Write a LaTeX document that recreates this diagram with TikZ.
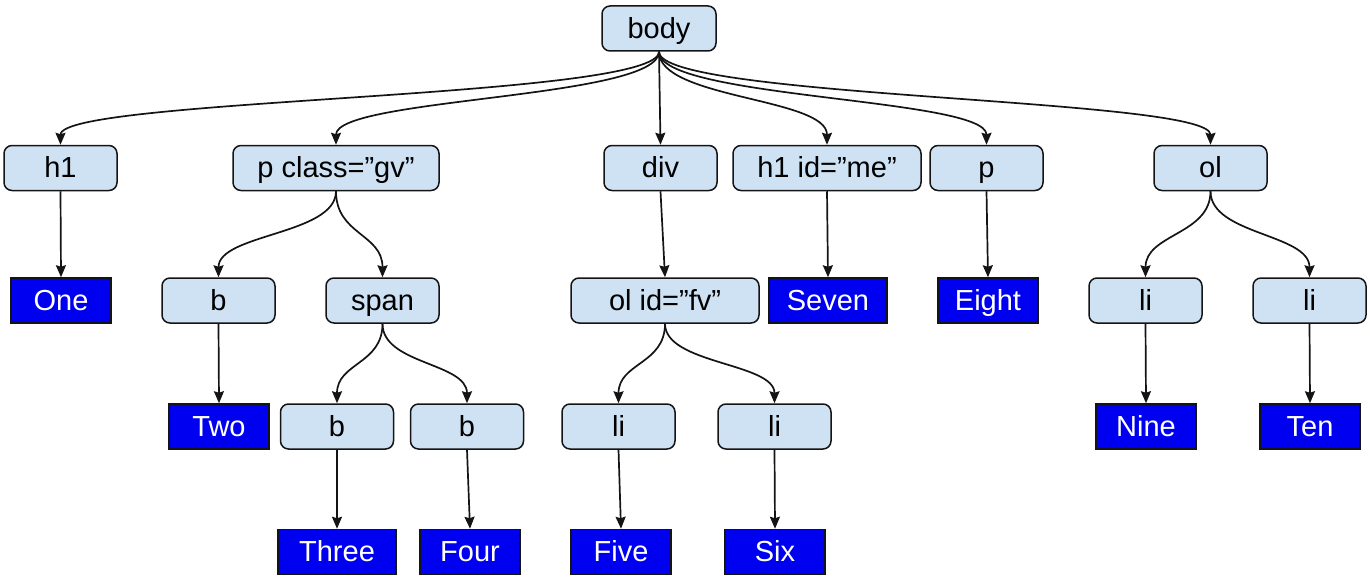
\documentclass[tikz,border=0pt]{standalone}
\usepackage{fontspec}
\setmainfont{Liberation Sans}
\usetikzlibrary{arrows.meta}
\definecolor{lightb}{HTML}{CFE2F3}
\definecolor{darkb}{HTML}{0000F0}
\definecolor{edgec}{HTML}{141414}
\tikzset{
  base/.style={line width=1.5pt, draw=edgec, inner sep=0pt, anchor=center,
    font=\fontsize{29}{33}\selectfont, text height=20.5pt, text depth=1.2pt,
    minimum height=45pt},
  lt/.style={base, fill=lightb, rounded corners=8pt, text=black},
  dk/.style={base, fill=darkb, text=white},
  conn/.style={line width=1.7pt, draw=edgec, -{Stealth[length=12pt,width=10pt,inset=1.5pt]}}
}
\begin{document}
\begin{tikzpicture}[x=1pt,y=-1pt]
\useasboundingbox (0,0) rectangle (1370,578);
% row 0
\node[lt, minimum width=114pt] (body) at (659,28.5) {body};
% row 1
\node[lt, minimum width=113pt] (h1)   at (60.5,168) {h1};
\node[lt, minimum width=206pt] (pcl)  at (336,168) {p class=”gv”};
\node[lt, minimum width=113pt] (div)  at (660.5,168) {div};
\node[lt, minimum width=188pt] (h1me) at (827,168) {h1 id=”me”};
\node[lt, minimum width=113pt] (p)    at (986.5,168) {p};
\node[lt, minimum width=113pt] (ol)   at (1210.5,168) {ol};
% row 2
\node[dk, minimum width=100pt] (one)   at (61,300.5) {One};
\node[lt, minimum width=113pt] (b1)    at (218.5,300.5) {b};
\node[lt, minimum width=113pt] (span)  at (382.5,300.5) {span};
\node[lt, minimum width=188pt] (olfv)  at (665,300.5) {ol id=”fv”};
\node[dk, minimum width=118pt] (seven) at (828,300.5) {Seven};
\node[dk, minimum width=100pt] (eight) at (988,300.5) {Eight};
\node[lt, minimum width=113pt] (li1)   at (1145.5,300.5) {li};
\node[lt, minimum width=113pt] (li2)   at (1309.5,300.5) {li};
% row 3
\node[dk, minimum width=100pt] (two)  at (219,426.5) {Two};
\node[lt, minimum width=113pt] (b2)   at (337,426.5) {b};
\node[lt, minimum width=113pt] (b3)   at (467,426.5) {b};
\node[lt, minimum width=113pt] (li3)  at (618.5,426.5) {li};
\node[lt, minimum width=113pt] (li4)  at (774.5,426.5) {li};
\node[dk, minimum width=100pt] (nine) at (1146,426.5) {Nine};
\node[dk, minimum width=100pt] (ten)  at (1310,426.5) {Ten};
% row 4
\node[dk, minimum width=118pt] (three) at (337,552) {Three};
\node[dk, minimum width=100pt] (four)  at (470,552) {Four};
\node[dk, minimum width=100pt] (five)  at (621,552) {Five};
\node[dk, minimum width=100pt] (six)   at (775,552) {Six};
% edges from body
\draw[conn] (body.south) .. controls +(0,47) and +(0,-47) .. (h1.north);
\draw[conn] (body.south) .. controls +(0,47) and +(0,-47) .. (pcl.north);
\draw[conn] (body.south) -- (div.north);
\draw[conn] (body.south) .. controls +(0,47) and +(0,-47) .. (h1me.north);
\draw[conn] (body.south) .. controls +(0,47) and +(0,-47) .. (p.north);
\draw[conn] (body.south) .. controls +(0,47) and +(0,-47) .. (ol.north);
% row 1 -> row 2
\draw[conn] (h1.south) -- (one.north);
\draw[conn] (pcl.south) .. controls +(0,43.5) and +(0,-43.5) .. (b1.north);
\draw[conn] (pcl.south) .. controls +(0,43.5) and +(0,-43.5) .. (span.north);
\draw[conn] (div.south) -- (olfv.north);
\draw[conn] (h1me.south) -- (seven.north);
\draw[conn] (p.south) -- (eight.north);
\draw[conn] (ol.south) .. controls +(0,43.5) and +(0,-43.5) .. (li1.north);
\draw[conn] (ol.south) .. controls +(0,43.5) and +(0,-43.5) .. (li2.north);
% row 2 -> row 3
\draw[conn] (b1.south) -- (two.north);
\draw[conn] (span.south) .. controls +(0,40.5) and +(0,-40.5) .. (b2.north);
\draw[conn] (span.south) .. controls +(0,40.5) and +(0,-40.5) .. (b3.north);
\draw[conn] (olfv.south) .. controls +(0,40.5) and +(0,-40.5) .. (li3.north);
\draw[conn] (olfv.south) .. controls +(0,40.5) and +(0,-40.5) .. (li4.north);
\draw[conn] (li1.south) -- (nine.north);
\draw[conn] (li2.south) -- (ten.north);
% row 3 -> row 4
\draw[conn] (b2.south) -- (three.north);
\draw[conn] (b3.south) -- (four.north);
\draw[conn] (li3.south) -- (five.north);
\draw[conn] (li4.south) -- (six.north);
\end{tikzpicture}
\end{document}
